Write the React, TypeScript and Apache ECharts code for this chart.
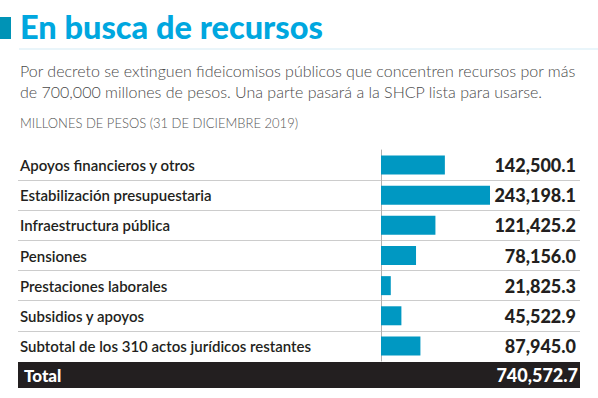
import React, { useEffect, useRef } from "react";
import * as echarts from "echarts";

const titleText = "En busca de recursos";
const subtitleLines = [
  "Por decreto se extinguen fideicomisos públicos que concentren recursos por más",
  "de 700,000 millones de pesos. Una parte pasará a la SHCP lista para usarse.",
];
const unitNote = "MILLONES DE PESOS (31 DE DICIEMBRE 2019)";

const categories = [
  "Apoyos financieros y otros",
  "Estabilización presupuestaria",
  "Infraestructura pública",
  "Pensiones",
  "Prestaciones laborales",
  "Subsidios y apoyos",
  "Subtotal de los 310 actos jurídicos restantes",
];
const values = [142500.1, 243198.1, 121425.2, 78156.0, 21825.3, 45522.9, 87945.0];
const totalLabel = "Total";
const totalValue = 740572.7;

const fmt = (v: number) =>
  v.toLocaleString("en-US", { minimumFractionDigits: 1, maximumFractionDigits: 1 });

const FONT = "Lato";

export default function App() {
  const ref = useRef<HTMLDivElement>(null);
  useEffect(() => {
    if (!ref.current) return;
    const chart = echarts.init(ref.current, null, { renderer: "svg" });
    const rowsTop = 150;
    const rowsHeight = 211;
    chart.setOption({
      animation: false,
      backgroundColor: "#ffffff",
      graphic: [
        { type: "rect", shape: { x: 0, y: 17, width: 11, height: 22 }, style: { fill: "#0093b6" } },
        {
          type: "text",
          x: 20,
          y: 10,
          style: { text: titleText, fill: "#00a7df", font: `900 32.5px ${FONT}` },
        },
        { type: "line", shape: { x1: 19, y1: 49, x2: 598, y2: 49 }, style: { stroke: "#e2f2f9", lineWidth: 1.5 } },
        {
          type: "text",
          x: 20,
          y: 60,
          style: { text: subtitleLines.join("\n"), fill: "#4a4a4a", font: `300 16px ${FONT}`, lineHeight: 21 },
        },
        {
          type: "text",
          x: 20,
          y: 116,
          style: { text: unitNote, fill: "#555555", font: `300 13px ${FONT}` },
        },
      ],
      grid: [
        { left: 18, right: 18, top: rowsTop, height: rowsHeight },
        { left: 381, right: 108, top: rowsTop, height: rowsHeight },
        { left: 18, right: 18, top: 362, height: 26 },
      ],
      xAxis: [
        { gridIndex: 0, type: "value", min: 0, max: 1, show: false },
        { gridIndex: 1, type: "value", min: 0, max: "dataMax", show: false },
        { gridIndex: 2, type: "value", min: 0, max: 1, show: false },
      ],
      yAxis: [
        {
          gridIndex: 0,
          type: "category",
          data: categories,
          inverse: true,
          position: "left",
          axisLine: { show: false },
          axisTick: { show: false },
          axisLabel: { inside: true, margin: 2, color: "#231f20", fontFamily: FONT, fontSize: 15, fontWeight: 600 },
          splitLine: { show: true, showMinLine: false, showMaxLine: false, lineStyle: { color: "#cccccc", width: 1 } },
        },
        {
          gridIndex: 0,
          type: "category",
          data: values.map(fmt),
          inverse: true,
          position: "right",
          axisLine: { show: false },
          axisTick: { show: false },
          axisLabel: { inside: true, margin: 4, color: "#231f20", fontFamily: FONT, fontSize: 18, fontWeight: 900 },
          splitLine: { show: false },
        },
        {
          gridIndex: 1,
          type: "category",
          data: categories,
          inverse: true,
          axisLine: { show: true, lineStyle: { color: "#b0b0b0", width: 1 } },
          axisTick: { show: false },
          axisLabel: { show: false },
        },
        {
          gridIndex: 2,
          type: "category",
          data: [totalLabel],
          position: "left",
          axisLine: { show: false },
          axisTick: { show: false },
          axisLabel: { inside: true, margin: 6, color: "#ffffff", fontFamily: FONT, fontSize: 17, fontWeight: 900 },
          splitArea: { show: true, areaStyle: { color: ["#231f20"] } },
        },
        {
          gridIndex: 2,
          type: "category",
          data: [fmt(totalValue)],
          position: "right",
          axisLine: { show: false },
          axisTick: { show: false },
          axisLabel: { inside: true, margin: 2, color: "#ffffff", fontFamily: FONT, fontSize: 18, fontWeight: 900 },
        },
      ],
      series: [
        {
          type: "bar",
          xAxisIndex: 1,
          yAxisIndex: 2,
          data: values,
          barWidth: 19,
          itemStyle: { color: "#0098c2" },
          silent: true,
        },
      ],
    });
    return () => chart.dispose();
  }, []);
  return <div ref={ref} style={{ position: "fixed", left: 0, top: 0, width: 598, height: 398 }} />;
}
